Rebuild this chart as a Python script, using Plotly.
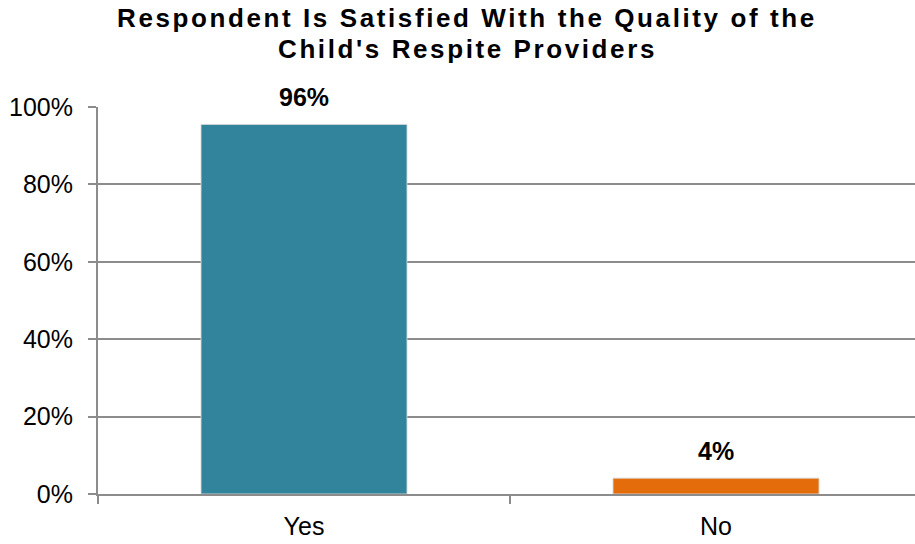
import plotly.graph_objects as go

categories = ["Yes", "No"]
values = [95.5, 4.1]
labels = ["96%", "4%"]
colors = ["#31849B", "#E46C0A"]
y_ticks = [0, 20, 40, 60, 80, 100]
title_lines = ["Respondent Is Satisfied With the Quality of the", "Child's Respite Providers"]

FONT = "Liberation Sans, Arial, sans-serif"

fig = go.Figure()
fig.add_trace(go.Bar(
    x=categories, y=values,
    marker=dict(color=colors, line=dict(color="rgba(215,215,215,0.9)", width=1)),
    width=0.5,
    hoverinfo="skip",
))

for c, v, t in zip(categories, values, labels):
    fig.add_annotation(x=c, y=v, text="<b>%s</b>" % t, showarrow=False,
                       yanchor="bottom", yshift=11,
                       font=dict(family=FONT, size=25, color="#000000"))

title_y = [1.229, 1.149]
for line, ty in zip(title_lines, title_y):
    fig.add_annotation(xref="paper", yref="paper", x=0.452, y=ty,
                       text='<span style="letter-spacing:2.6px"><b>%s</b></span>' % line,
                       showarrow=False, yanchor="middle", xanchor="center",
                       font=dict(family=FONT, size=26, color="#000000"))

fig.update_layout(
    width=915, height=544,
    margin=dict(l=98, r=0, t=107, b=50),
    paper_bgcolor="white", plot_bgcolor="white",
    showlegend=False,
    font=dict(family=FONT, size=25, color="#000000"),
    xaxis=dict(
        type="category", range=[-0.5, 1.483],
        tickson="boundaries", ticks="outside", ticklen=8, tickwidth=2, tickcolor="#8c8c8c",
        showline=True, linecolor="#8c8c8c", linewidth=2,
        showgrid=False, ticklabelstandoff=9,
        tickfont=dict(family=FONT, size=25, color="#000000"),
    ),
    yaxis=dict(
        range=[0, 100], tickvals=y_ticks, ticktext=["%d%%" % t for t in y_ticks],
        ticks="outside", ticklen=8, tickwidth=2, tickcolor="#8c8c8c",
        showline=True, linecolor="#8c8c8c", linewidth=2,
        showgrid=True, gridcolor="#8c8c8c", gridwidth=2,
        zeroline=False, ticklabelstandoff=10,
        tickfont=dict(family=FONT, size=25, color="#000000"),
    ),
)

fig.write_html("out.html", config={"displayModeBar": False},
               post_script="document.body.style.margin='0';")
